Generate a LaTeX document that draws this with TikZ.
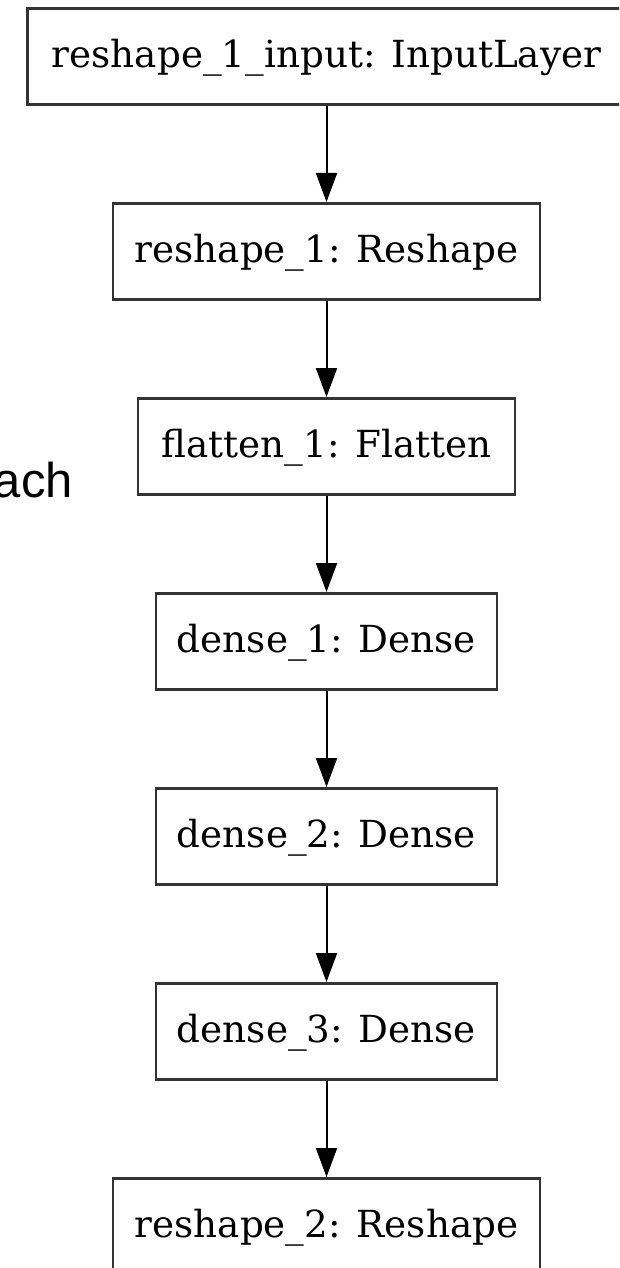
\documentclass[tikz,border=0pt]{standalone}
\usepackage{fontspec}
\setmainfont{DejaVu Serif}
\newfontfamily\notefont{Liberation Sans}
\usetikzlibrary{arrows.meta}
\begin{document}
\begin{tikzpicture}[x=1pt,y=-1pt,
  layer/.style={draw=black!80, line width=2.8pt, rectangle, inner xsep=0pt, inner ysep=0pt,
    text height=59pt, text depth=37pt, font=\fontsize{37.3}{40}\selectfont, anchor=north},
  flow/.style={draw=black, line width=2pt, -{Triangle[length=29pt,width=21pt]}}]
\useasboundingbox (0,0) rectangle (619,1268);
\clip (0,0) rectangle (619,1268);
% layer boxes, one column, 195pt apart
\node[layer, minimum width=598pt] (in)  at (326.5,7)    {reshape\_1\_input: InputLayer};
\node[layer, minimum width=427pt] (rs1) at (326.5,202)  {reshape\_1: Reshape};
\node[layer, minimum width=377pt] (fl)  at (326.5,397)  {flatten\_1: Flatten};
\node[layer, minimum width=341pt] (d1)  at (326.5,592)  {dense\_1: Dense};
\node[layer, minimum width=341pt] (d2)  at (326.5,787)  {dense\_2: Dense};
\node[layer, minimum width=341pt] (d3)  at (326.5,982)  {dense\_3: Dense};
\node[layer, minimum width=427pt] (rs2) at (326.5,1177) {reshape\_2: Reshape};
% connectors
\draw[flow] (in.south) -- (rs1.north);
\draw[flow] (rs1.south) -- (fl.north);
\draw[flow] (fl.south) -- (d1.north);
\draw[flow] (d1.south) -- (d2.north);
\draw[flow] (d2.south) -- (d3.north);
\draw[flow] (d3.south) -- (rs2.north);
% side text
\node[font=\notefont\fontsize{49}{52}\selectfont, anchor=base east, inner sep=0pt] (note) at (73,497) {ach};
\end{tikzpicture}
\end{document}
